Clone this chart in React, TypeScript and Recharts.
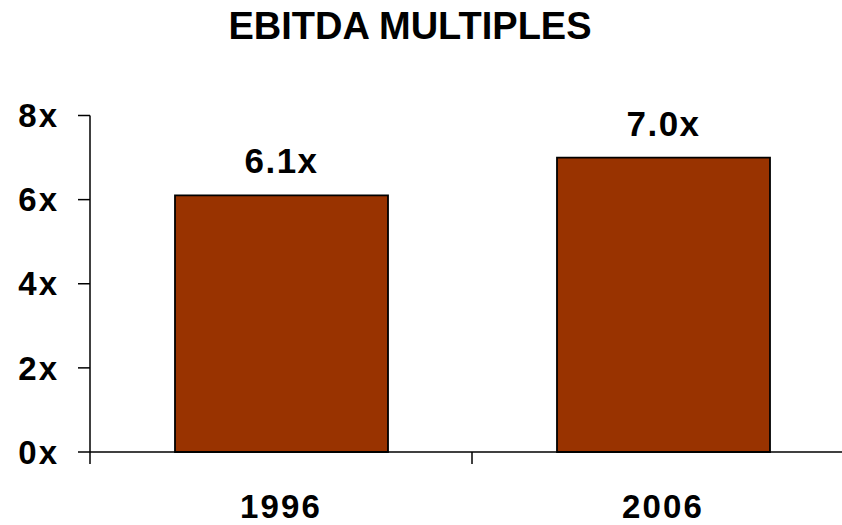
import React from 'react';
import { BarChart, Bar, XAxis, YAxis, LabelList } from 'recharts';

const categories = ['1996', '2006'];
const multiples = [6.1, 7.0];
const yTicks = [0, 2, 4, 6, 8];

const data = categories.map((c, i) => ({ year: c, value: multiples[i] }));

const FONT = '"Liberation Sans", Arial, Helvetica, sans-serif';

const XTick = (props: any) => {
  const { x, y, payload, index, visibleTicksCount, width } = props;
  const band = Number(width) / visibleTicksCount;
  const isLast = index === visibleTicksCount - 1;
  return (
    <g>
      <line x1={x - band / 2} x2={x - band / 2} y1={y} y2={y + 12} stroke="#000" strokeWidth={1.5} />
      {isLast && (
        <line x1={x + band / 2} x2={x + band / 2} y1={y} y2={y + 12} stroke="#000" strokeWidth={1.5} />
      )}
      <text
        x={x}
        y={y + 66}
        textAnchor="middle"
        fill="#000"
        fontFamily={FONT}
        fontWeight="bold"
        fontSize={33}
        letterSpacing={2.2}
      >
        {payload.value}
      </text>
    </g>
  );
};

export default function App() {
  return (
    <div style={{ position: 'relative', width: 842, height: 525, overflow: 'hidden', background: '#fff' }}>
      <style>{`body{margin:0;overflow:hidden;}`}</style>
      <div
        style={{
          position: 'absolute',
          left: 0,
          top: 7,
          width: 820,
          textAlign: 'center',
          fontFamily: FONT,
          fontWeight: 'bold',
          fontSize: 38,
          lineHeight: '38px',
          color: '#000',
        }}
      >
        EBITDA MULTIPLES
      </div>
      <BarChart
        width={856}
        height={525}
        data={data}
        margin={{ top: 115.5, right: 2, bottom: 0, left: 0 }}
      >
        <YAxis
          width={90}
          domain={[0, 8]}
          ticks={yTicks}
          interval={0}
          tickFormatter={(v: number) => `${v}x`}
          tickSize={12}
          tickMargin={19}
          axisLine={{ stroke: '#000', strokeWidth: 1.5 }}
          tickLine={{ stroke: '#000', strokeWidth: 1.5 }}
          tick={{ fill: '#000', fontFamily: FONT, fontWeight: 'bold', fontSize: 33, letterSpacing: 2 }}
        />
        <XAxis
          dataKey="year"
          height={73}
          tickLine={false}
          tickSize={0}
          tickMargin={0}
          interval={0}
          axisLine={{ stroke: '#000', strokeWidth: 1.5 }}
          tick={<XTick />}
        />
        <Bar
          dataKey="value"
          fill="#993300"
          stroke="#000"
          strokeWidth={1.8}
          barSize={213}
          isAnimationActive={false}
        >
          <LabelList
            dataKey="value"
            position="top"
            offset={22}
            formatter={(v: any) => `${Number(v).toFixed(1)}x`}
            fill="#000"
            fontFamily={FONT}
            fontWeight="bold"
            fontSize={35}
            letterSpacing={1.5}
          />
        </Bar>
      </BarChart>
    </div>
  );
}
